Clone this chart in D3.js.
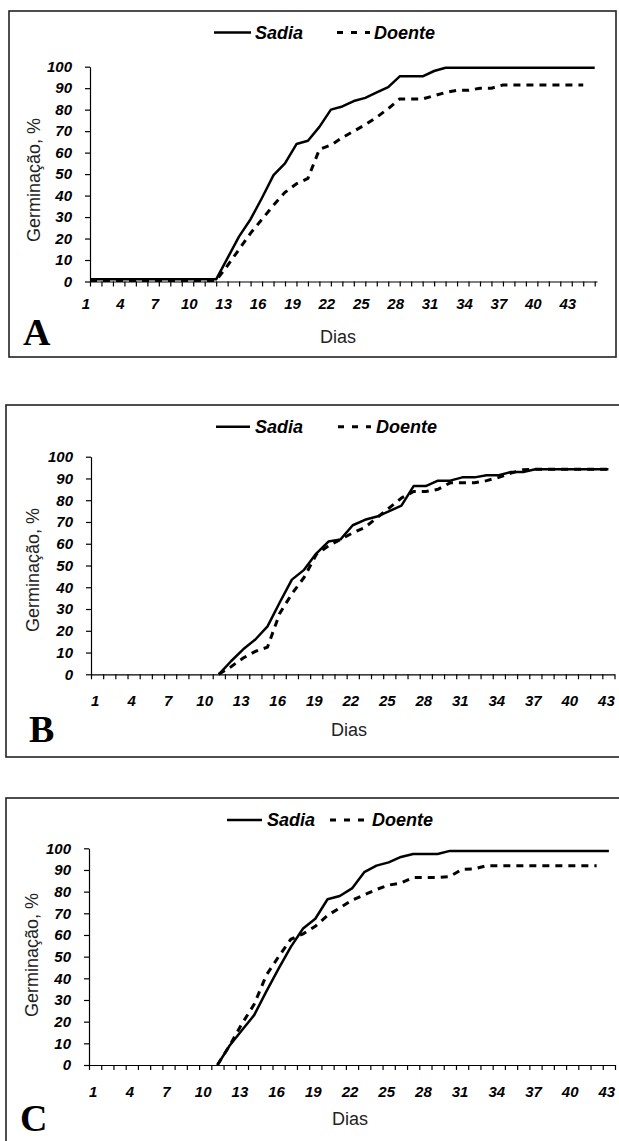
<!DOCTYPE html>
<html>
<head>
<meta charset="utf-8">
<script src="https://cdn.jsdelivr.net/npm/d3@7"></script>
<style>
  html, body { margin: 0; padding: 0; background: #fff; }
  svg { display: block; }
</style>
</head>
<body>
<svg id="chart" width="619" height="1141"></svg>
<script>
// ---------------- DATA ----------------
const seriesNames = ["Sadia", "Doente"];
const panelLetters = ["A", "B", "C"];
const xTickLabels = ["1","4","7","10","13","16","19","22","25","28","31","34","37","40","43"];
const yTickValues = [0,10,20,30,40,50,60,70,80,90,100];
const xTitle = "Dias";
const yTitle = "Germinação, %";

// Panel A (days 1..45 / 1..44)
const sadiaA = [1,1,1,1,1,1,1,1,1,1,1,1,
  11,21,29,39,49.5,55,64,65.5,72,80,81.5,84,85.5,88,90.5,95.5,95.5,95.5,98,99.5,
  99.5,99.5,99.5,99.5,99.5,99.5,99.5,99.5,99.5,99.5,99.5,99.5,99.5];
const doenteA = [0.5,0.5,0.5,0.5,0.5,0.5,0.5,0.5,0.5,0.5,0.5,0.5,
  7.5,15,22.5,29,35.5,41.5,45.5,48,61.5,63.5,67,70,73,76.5,80.5,85,85,85,86.5,88,89,89,90,90,
  91.5,91.5,91.5,91.5,91.5,91.5,91.5,91.5];

// Panel B (days 1..43)
const sadiaB = [null,null,null,null,null,null,null,null,null,null,
  0,6,11.5,16,22,33,43.5,48,55.5,61,62,68.5,71,72.5,75,77.5,86.5,86.5,89,89,90.5,90.5,91.5,91.5,93,93,
  94.2,94.2,94.2,94.2,94.2,94.2,94.2];
const doenteB = [null,null,null,null,null,null,null,null,null,null,
  0,3.5,7.5,10.5,12.5,28,37,44.5,55,59,62,65,67.5,72,76.5,81,84,84,85,88,88,88,89,90.5,92.5,94,
  94.2,94.2,94.2,94.2,94.2,94.2,94.2];

// Panel C (days 1..43 / 1..42)
const sadiaC = [null,null,null,null,null,null,null,null,null,null,
  0,9,16,23,34,44.5,54.5,63,67.5,76.5,78,81.5,89,92,93.5,96,97.4,97.4,97.4,98.8,
  98.8,98.8,98.8,98.8,98.8,98.8,98.8,98.8,98.8,98.8,98.8,98.8,98.8];
const doenteC = [null,null,null,null,null,null,null,null,null,null,
  0,9,19,28,41.5,50,58,60.5,64,69,72.5,76,78.5,81,83,84,86.5,86.5,86.5,87,90.3,90.5,
  92,92,92,92,92,92,92,92,92,92];

const panelData = [
  [sadiaA, doenteA],
  [sadiaB, doenteB],
  [sadiaC, doenteC]
];

// ---------------- LAYOUT ----------------
const SANS = '"Liberation Sans", Arial, sans-serif';
const SERIF = '"Liberation Serif", "Times New Roman", serif';

const layouts = [
  { frame:[9,11,607,346], xDom:[1,45.2], xRange:[90,597], tickDays:d3.range(1,46), yRange:[281.5,66.7],
    labelDx:-4, labelY:309, leg:{y:32.5, s0:214, s1:251, st:255, d0:337, d1:370, dt:374},
    xTitle:[338,343], yTitle:[34,180], letter:[23,345] },
  { frame:[6,405,640,352], xDom:[0.5,43.5], xRange:[91,614.5], tickDays:d3.range(0.5,44,1), yRange:[674.3,456.7],
    labelDx:-2, labelY:705.5, leg:{y:426.7, s0:216, s1:250, st:255, d0:338, d1:371, dt:376},
    xTitle:[349,736], yTitle:[32.5,570], letter:[29,742] },
  { frame:[6,798,640,400], xDom:[0.5,43.5], xRange:[89,615], tickDays:d3.range(0.5,44,1), yRange:[1065,848.3],
    labelDx:-2, labelY:1096.5, leg:{y:820, s0:227, s1:262, st:267, d0:330, d1:367, dt:372},
    xTitle:[350,1125], yTitle:[32,955], letter:[20,1131] }
];

const svg = d3.select("#chart");

layouts.forEach((L, p) => {
  const g = svg.append("g");
  const [sA, dA] = panelData[p];

  // frame
  g.append("rect")
    .attr("x", L.frame[0]).attr("y", L.frame[1])
    .attr("width", L.frame[2]).attr("height", L.frame[3])
    .attr("fill", "none").attr("stroke", "#222").attr("stroke-width", 1.6);

  const x = d3.scaleLinear().domain(L.xDom).range(L.xRange);
  const y = d3.scaleLinear().domain([0,100]).range(L.yRange);

  // y axis
  const yAx = g.append("g")
    .attr("transform", `translate(${L.xRange[0]},0)`)
    .call(d3.axisLeft(y).tickValues(yTickValues).tickSize(5).tickSizeOuter(0).tickPadding(13));
  yAx.select(".domain").attr("stroke", "#000").attr("stroke-width", 1.2);
  yAx.selectAll(".tick line").attr("stroke", "#000").attr("stroke-width", 1.2);
  yAx.selectAll(".tick text")
    .attr("fill", "#000")
    .style("font-family", SANS)
    .attr("font-size", 15).attr("font-weight", "bold").attr("font-style", "italic");

  // x axis (ticks only)
  const xAx = g.append("g")
    .attr("transform", `translate(0,${L.yRange[0]})`)
    .call(d3.axisBottom(x).tickValues(L.tickDays).tickSize(5).tickSizeOuter(0).tickFormat(""));
  xAx.select(".domain").attr("stroke", "#000").attr("stroke-width", 1.2);
  xAx.selectAll(".tick line").attr("stroke", "#000").attr("stroke-width", 1.2);

  // x tick labels
  g.selectAll("text.xlab").data(xTickLabels).enter().append("text")
    .attr("class", "xlab")
    .attr("x", d => x(+d) + L.labelDx)
    .attr("y", L.labelY)
    .attr("text-anchor", "middle")
    .style("font-family", SANS)
    .attr("font-size", 15).attr("font-weight", "bold").attr("font-style", "italic")
    .text(d => d);

  // lines
  const line = d3.line()
    .defined(v => v !== null)
    .x((v, i) => x(i + 1))
    .y(v => y(v));

  g.append("path").datum(dA)
    .attr("d", line).attr("fill", "none").attr("stroke", "#000")
    .attr("stroke-width", 3).attr("stroke-dasharray", "7,6");
  g.append("path").datum(sA)
    .attr("d", line).attr("fill", "none").attr("stroke", "#000")
    .attr("stroke-width", 2.5).attr("stroke-linejoin", "round");

  // legend
  const lg = L.leg;
  g.append("line").attr("x1", lg.s0).attr("x2", lg.s1).attr("y1", lg.y).attr("y2", lg.y)
    .attr("stroke", "#000").attr("stroke-width", 2.5);
  g.append("text").attr("x", lg.st).attr("y", lg.y + 6)
    .style("font-family", SANS)
    .attr("font-size", 18).attr("font-weight", "bold").attr("font-style", "italic")
    .text(seriesNames[0]);
  g.append("line").attr("x1", lg.d0).attr("x2", lg.d1).attr("y1", lg.y).attr("y2", lg.y)
    .attr("stroke", "#000").attr("stroke-width", 3).attr("stroke-dasharray", "6,8");
  g.append("text").attr("x", lg.dt).attr("y", lg.y + 6)
    .style("font-family", SANS)
    .attr("font-size", 18).attr("font-weight", "bold").attr("font-style", "italic")
    .text(seriesNames[1]);

  // axis titles
  g.append("text").attr("x", L.xTitle[0]).attr("y", L.xTitle[1])
    .attr("text-anchor", "middle").style("font-family", SANS)
    .attr("font-size", 18).attr("fill", "#222")
    .text(xTitle);
  g.append("text")
    .attr("transform", `translate(${L.yTitle[0]},${L.yTitle[1]}) rotate(-90)`)
    .attr("text-anchor", "middle").attr("dy", "0.36em")
    .style("font-family", SANS)
    .attr("font-size", 18).attr("fill", "#222")
    .text(yTitle);

  // panel letter
  g.append("text").attr("x", L.letter[0]).attr("y", L.letter[1])
    .style("font-family", SERIF)
    .attr("font-size", 38).attr("font-weight", "bold")
    .text(panelLetters[p]);
});
</script>
</body>
</html>
